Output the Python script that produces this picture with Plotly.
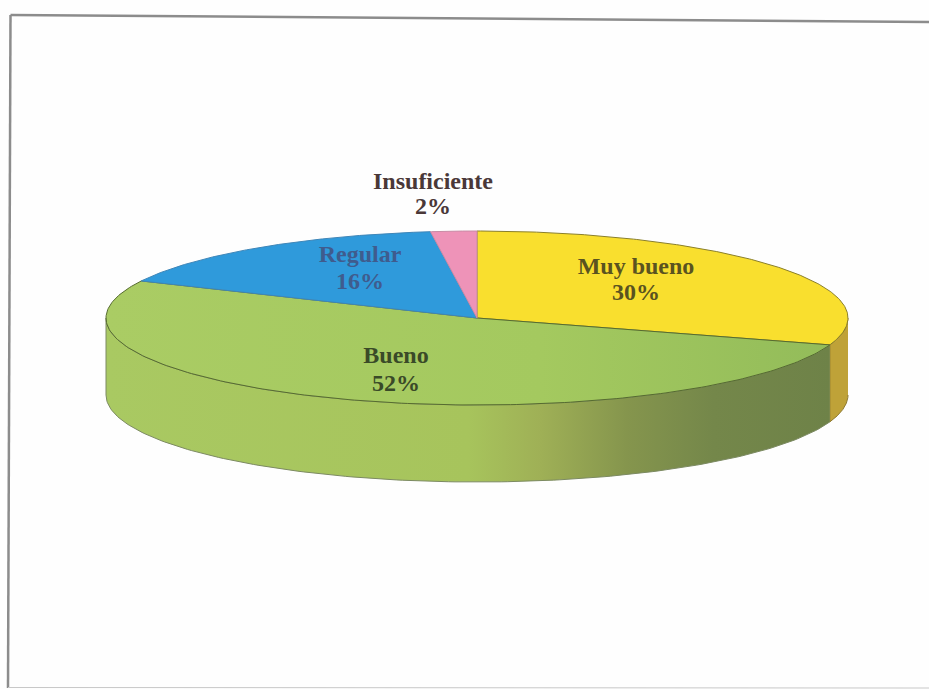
import numpy as np
import plotly.graph_objects as go

categories = ["Muy bueno", "Bueno", "Regular", "Insuficiente"]
percent = [30, 52, 16, 2]

# Projection of the tilted pie onto the page (pixels)
CX, CY, RX, RY, DEPTH = 477, 318, 371, 87, 77
TOP_COLORS = ["#F9DF2E", "#A6CA60", "#2F9ADB", "#EE93B8"]
EDGE_COLORS = ["#8A7F2A", "#566B30", "#3F86B8", "#C98BA5"]
SIDE_COLORS = ["#BFA238", "#7E9048", "#2A7DB0", "#C0789A"]
TEXT_COLORS = ["#5A5320", "#3A4A28", "#3F5C8E", "#4A3838"]
LABEL_X = [636, 396, 360, 433]
NAME_Y = [268, 357, 256, 183]
PCT_Y = [294, 385, 283, 208]

GREEN_TOP_SCALE = [[0, "#AACC64"], [0.6, "#A4C95F"], [1, "#93BC5A"]]
GREEN_SIDE_SCALE = [[0, "#A9C962"], [0.50, "#A7C45C"], [0.60, "#9FB056"],
                    [0.72, "#85954D"], [0.84, "#74874A"], [1, "#6E8248"]]


def ex(a):
    return CX + RX * np.sin(np.radians(a))


def ey(a):
    return CY - RY * np.cos(np.radians(a))


bounds = np.concatenate([[0], np.cumsum(percent)]) * 3.6
fig = go.Figure()

# Side wall: only the part of each slice that faces the viewer (90..270 deg)
for i, name in enumerate(categories):
    a0, a1 = max(bounds[i], 90), min(bounds[i + 1], 270)
    if a1 <= a0:
        continue
    t = np.linspace(a0, a1, 160)
    xs = np.concatenate([ex(t), ex(t[::-1])])
    ys = np.concatenate([ey(t), ey(t[::-1]) + DEPTH])
    kw = {"fillgradient": dict(type="horizontal", colorscale=GREEN_SIDE_SCALE)} if name == "Bueno" \
        else {"fillcolor": SIDE_COLORS[i]}
    fig.add_trace(go.Scatter(x=xs, y=ys, mode="lines", fill="toself", hoverinfo="skip",
                             line=dict(color="#7C8A62" if name == "Bueno" else "#8F7A30", width=1), **kw))

# Top face
for i, name in enumerate(categories):
    t = np.linspace(bounds[i], bounds[i + 1], 200)
    xs = np.concatenate([[CX], ex(t), [CX]])
    ys = np.concatenate([[CY], ey(t), [CY]])
    kw = {"fillgradient": dict(type="horizontal", colorscale=GREEN_TOP_SCALE)} if name == "Bueno" \
        else {"fillcolor": TOP_COLORS[i]}
    fig.add_trace(go.Scatter(x=xs, y=ys, mode="lines", fill="toself", name=name,
                             line=dict(color=EDGE_COLORS[i], width=1), **kw))

for ys, texts in ((NAME_Y, categories), (PCT_Y, [f"{p}%" for p in percent])):
    fig.add_trace(go.Scatter(
        x=LABEL_X, y=ys, mode="text", hoverinfo="skip",
        text=[f"<b>{s}</b>" for s in texts],
        textposition="middle center",
        textfont=dict(family="Liberation Serif", size=24, color=TEXT_COLORS),
    ))

frame = dict(type="line", xref="x", yref="y", line=dict(color="#8C8C8C", width=2.5))
fig.update_layout(
    width=929, height=689, autosize=False, showlegend=False,
    margin=dict(l=0, r=0, t=0, b=0),
    paper_bgcolor="#FEFEFE", plot_bgcolor="#FEFEFE",
    xaxis=dict(visible=False, range=[0, 929], fixedrange=True),
    yaxis=dict(visible=False, range=[689, 0], fixedrange=True),
    shapes=[
        dict(frame, x0=10.5, y0=15, x1=929, y1=22),
        dict(frame, x0=10.5, y0=15, x1=8, y1=688),
        dict(frame, x0=8, y0=687.5, x1=929, y1=688, line=dict(color="#C8C8C8", width=1)),
    ],
)
fig.write_html("out.html", config={"displayModeBar": False},
               post_script="document.body.style.margin='0';document.body.style.background='#FEFEFE';")
